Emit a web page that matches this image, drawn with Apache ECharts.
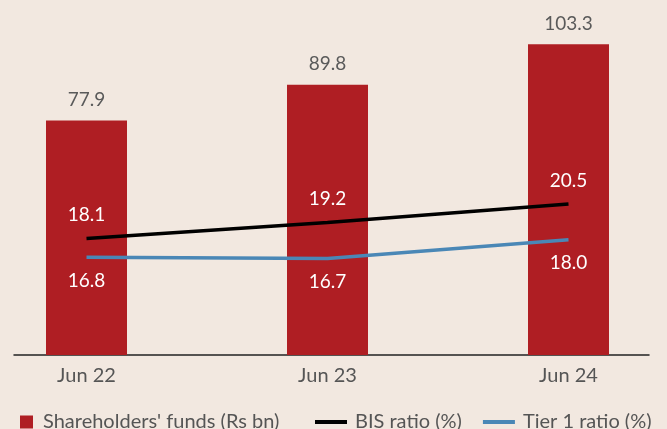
<!DOCTYPE html>
<html lang="en">
<head>
    <meta charset="UTF-8">
    <title>Shareholders' funds and capital ratios</title>
    <script src="https://cdn.jsdelivr.net/npm/echarts@6/dist/echarts.min.js"></script>
    <style>
        html, body { margin: 0; padding: 0; background: #f2e8e0; }
        #chart { width: 667px; height: 429px; }
    </style>
</head>
<body>
    <div id="chart"></div>

    <script>
        // data
        var periods = ['Jun 22', 'Jun 23', 'Jun 24'];
        var fundsData = [77.9, 89.8, 103.3];   // Rs bn
        var bisData = [18.1, 19.2, 20.5];      // %
        var tier1Data = [16.8, 16.7, 18.0];    // %

        var fundsName = "Shareholders' funds (Rs bn)";
        var bisName = 'BIS ratio (%)';
        var tier1Name = 'Tier 1 ratio (%)';

        var font = 'Lato, "Open Sans", sans-serif';

        var chart = echarts.init(document.getElementById('chart'));

        var option = {
            backgroundColor: '#f2e8e0',
            animation: false,
            textStyle: { fontFamily: font },
            grid: [
                // ticks sit on the grid edges (boundaryGap false), bars centred on them
                { left: 86.5, right: 98.5, top: 24, bottom: 74 },
                // wider grid only used for the baseline
                { left: 14, right: 18, top: 24, bottom: 74 }
            ],
            legend: [
                {
                    data: [fundsName],
                    left: 20, top: 412, padding: 0,
                    itemWidth: 13, itemHeight: 13,
                    icon: 'rect',
                    textStyle: { fontSize: 20, color: '#555', lineHeight: 20, padding: [0, 0, 0, 5] }
                },
                {
                    data: [bisName, tier1Name],
                    left: 315, top: 412, padding: 0,
                    itemWidth: 32, itemHeight: 4, itemGap: 21,
                    icon: 'rect',
                    textStyle: { fontSize: 20, color: '#555', lineHeight: 20, padding: [0, 0, 0, 3] }
                }
            ],
            xAxis: [
                {
                    type: 'category', gridIndex: 0, data: periods,
                    boundaryGap: false,
                    axisLine: { show: false }, axisTick: { show: false },
                    axisLabel: { fontSize: 20, color: '#555', margin: 11, fontFamily: font }
                },
                {
                    type: 'category', gridIndex: 1, data: periods,
                    axisLine: { show: true, lineStyle: { color: '#222', width: 1.5 } },
                    axisTick: { show: false }, axisLabel: { show: false }
                }
            ],
            yAxis: [
                { type: 'value', gridIndex: 0, min: 0, max: 110, show: false },
                { type: 'value', gridIndex: 0, min: 10, max: 33, show: false },
                { type: 'value', gridIndex: 1, min: 0, max: 1, show: false }
            ],
            series: [
                {
                    name: fundsName, type: 'bar',
                    xAxisIndex: 0, yAxisIndex: 0,
                    data: fundsData, barWidth: 81, clip: false,
                    itemStyle: { color: '#af1e23' },
                    label: {
                        show: true, position: 'top', distance: 11,
                        fontSize: 19, color: '#5a5a5a', fontFamily: font
                    }
                },
                {
                    name: bisName, type: 'line',
                    xAxisIndex: 0, yAxisIndex: 1,
                    data: bisData, color: '#000',
                    symbol: 'circle', symbolSize: 0, showSymbol: true,
                    lineStyle: { color: '#000', width: 3.5 },
                    z: 3,
                    label: {
                        show: true, position: 'top', distance: 14,
                        fontSize: 19, color: '#fff', fontFamily: font,
                        formatter: function (p) { return p.value.toFixed(1); }
                    }
                },
                {
                    name: tier1Name, type: 'line',
                    xAxisIndex: 0, yAxisIndex: 1,
                    data: tier1Data, color: '#4a87b6',
                    symbol: 'circle', symbolSize: 0, showSymbol: true,
                    lineStyle: { color: '#4a87b6', width: 3.5 },
                    z: 3,
                    label: {
                        show: true, position: 'bottom', distance: 14,
                        fontSize: 19, color: '#fff', fontFamily: font,
                        formatter: function (p) { return p.value.toFixed(1); }
                    }
                }
            ]
        };
        chart.setOption(option);
    </script>
</body>
</html>
